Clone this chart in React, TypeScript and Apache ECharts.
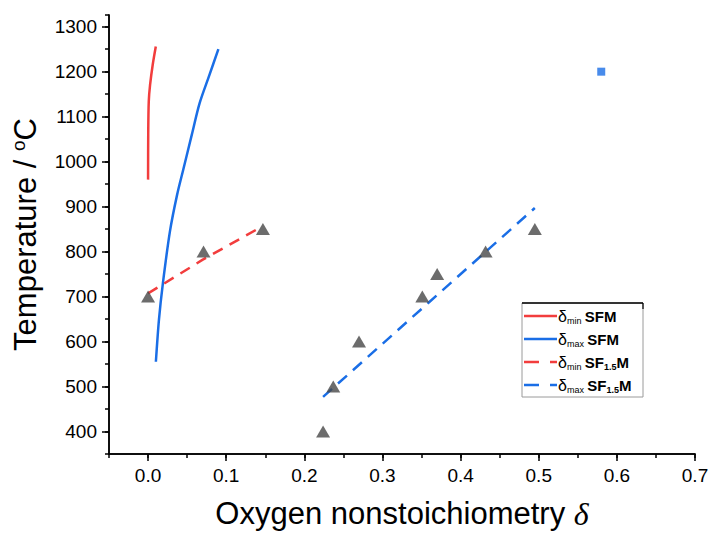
import React, { useEffect, useRef } from "react";
import * as echarts from "echarts";

const FONT = "'Liberation Sans', Arial, sans-serif";

const xMajor = [0, 0.1, 0.2, 0.3, 0.4, 0.5, 0.6, 0.7];
const yMajor = [400, 500, 600, 700, 800, 900, 1000, 1100, 1200, 1300];

// δmin SFM (solid red)
const minSFM = [
  [0.0, 960], [0.0002, 1060], [0.0009, 1134], [0.0026, 1171],
  [0.006, 1216], [0.0099, 1256],
];
// δmax SFM (solid blue)
const maxSFM = [
  [0.010, 555], [0.014, 650], [0.019, 730], [0.028, 845], [0.037, 925],
  [0.045, 982], [0.056, 1060], [0.066, 1130], [0.078, 1190], [0.090, 1250],
];
// δmin SF1.5M (dashed red)
const minSF15M = [[0.0, 707], [0.07, 782], [0.145, 855]];
// δmax SF1.5M (dashed blue)
const maxSF15M = [[0.224, 477], [0.36, 688], [0.495, 897]];
// measured points (triangles)
const measured = [
  [0.0, 700], [0.071, 800], [0.147, 850], [0.224, 400], [0.237, 500],
  [0.27, 600], [0.351, 700], [0.37, 750], [0.432, 800], [0.495, 850],
];
// single square point
const squarePt = [[0.58, 1200]];

const RED = "#f23d3d";
const BLUE = "#1a6ee6";

const legendItems = [
  { color: RED, dashed: false, label: "{d|δ}{s|min} {b|SFM}" },
  { color: BLUE, dashed: false, label: "{d|δ}{s|max} {b|SFM}" },
  { color: RED, dashed: true, label: "{d|δ}{s|min} {b|SF}{bs|1.5}{b|M}" },
  { color: BLUE, dashed: true, label: "{d|δ}{s|max} {b|SF}{bs|1.5}{b|M}" },
];

export default function App() {
  const ref = useRef<HTMLDivElement>(null);

  useEffect(() => {
    document.body.style.margin = "0";
    if (!ref.current) return;
    const chart = echarts.init(ref.current, undefined, { renderer: "svg" });

    const tickStyle = { color: "#000", width: 1.5 };
    const lx = 522, ly = 303, lw = 121, lh = 94;
    const rowY = [316, 339, 362, 385];

    const legendGraphics: any[] = [
      {
        type: "rect",
        shape: { x: lx, y: ly, width: lw, height: lh },
        style: { fill: "#fff", stroke: "#9a9a9a", lineWidth: 1 },
        z: 100,
      },
      {
        type: "line",
        shape: { x1: lx, y1: ly, x2: lx + lw, y2: ly },
        style: { stroke: "#000", lineWidth: 1.6 },
        z: 101,
      },
      {
        type: "line",
        shape: { x1: lx + lw, y1: ly, x2: lx + lw, y2: ly + 6 },
        style: { stroke: "#000", lineWidth: 1.2 },
        z: 101,
      },
    ];
    legendItems.forEach((it, i) => {
      legendGraphics.push({
        type: "line",
        shape: { x1: lx + 2, y1: rowY[i], x2: lx + 35, y2: rowY[i] },
        style: {
          stroke: it.color,
          lineWidth: 2.5,
          lineDash: it.dashed ? [15, 11] : null,
        },
        z: 101,
      });
      legendGraphics.push({
        type: "text",
        x: lx + 36,
        y: rowY[i],
        style: {
          text: it.label,
          verticalAlign: "middle",
          fill: "#000",
          rich: {
            d: { fontSize: 16, fontFamily: FONT, fill: "#000" },
            s: { fontSize: 9, fontFamily: FONT, fill: "#000", padding: [9, 0, 0, 0] },
            b: { fontSize: 15, fontFamily: FONT, fontWeight: "bold", fill: "#000" },
            bs: { fontSize: 9, fontFamily: FONT, fontWeight: "bold", fill: "#000", padding: [9, 0, 0, 0] },
          },
        },
        z: 102,
      });
    });

    const option: any = {
      animation: false,
      backgroundColor: "#fff",
      grid: {
        left: 109, right: 15, top: 15, bottom: 81,
        containLabel: false, outerBoundsMode: "none",
      },
      xAxis: [
        {
          type: "value",
          min: -0.05,
          max: 0.7,
          interval: 0.05,
          position: "bottom",
          axisLine: { show: true, onZero: false, lineStyle: tickStyle },
          axisTick: { show: true, length: 4, lineStyle: tickStyle },
          axisLabel: {
            customValues: xMajor,
            formatter: (v: number) => v.toFixed(1),
            fontSize: 19,
            color: "#000",
            margin: 12,
            fontFamily: FONT,
          },
          splitLine: { show: false },
          name: "Oxygen nonstoichiometry {i|δ}",
          nameLocation: "middle",
          nameGap: 44,
          nameTextStyle: {
            fontSize: 31,
            lineHeight: 31,
            fontFamily: FONT,
            color: "#000",
            rich: {
              i: { fontSize: 32, lineHeight: 31, fontStyle: "italic", fontFamily: "'Liberation Serif', serif", color: "#000" },
            },
          },
        },
        {
          type: "value",
          min: -0.05,
          max: 0.7,
          position: "bottom",
          axisLine: { show: true, onZero: false, lineStyle: tickStyle },
          axisTick: { show: true, customValues: xMajor, length: 7, lineStyle: tickStyle },
          axisLabel: { show: true, customValues: xMajor, formatter: () => "" },
          splitLine: { show: false },
        },
      ],
      yAxis: [
        {
          type: "value",
          min: 350,
          max: 1326,
          interval: 50,
          position: "left",
          axisLine: { show: true, onZero: false, lineStyle: tickStyle },
          axisTick: { show: true, length: 4, lineStyle: tickStyle },
          axisLabel: {
            customValues: yMajor,
            formatter: (v: number) => String(v),
            fontSize: 19,
            color: "#000",
            margin: 12,
            fontFamily: FONT,
          },
          splitLine: { show: false },
          name: "Temperature / {sup|o}C",
          nameLocation: "middle",
          nameGap: 67,
          nameTextStyle: {
            fontSize: 31,
            fontFamily: FONT,
            color: "#000",
            rich: {
              sup: { fontSize: 19, fontFamily: FONT, color: "#000", padding: [0, 0, 14, 0] },
            },
          },
        },
        {
          type: "value",
          min: 350,
          max: 1326,
          position: "left",
          axisLine: { show: true, onZero: false, lineStyle: tickStyle },
          axisTick: { show: true, customValues: yMajor, length: 7, lineStyle: tickStyle },
          axisLabel: { show: true, customValues: yMajor, formatter: () => "" },
          splitLine: { show: false },
        },
      ],
      series: [
        {
          name: "δmin SFM",
          type: "line",
          data: minSFM,
          smooth: 0.3,
          showSymbol: false,
          lineStyle: { color: RED, width: 2.5 },
          itemStyle: { color: RED },
        },
        {
          name: "δmax SFM",
          type: "line",
          data: maxSFM,
          smooth: 0.3,
          showSymbol: false,
          lineStyle: { color: BLUE, width: 2.5 },
          itemStyle: { color: BLUE },
        },
        {
          name: "δmin SF1.5M",
          type: "line",
          data: minSF15M,
          showSymbol: false,
          lineStyle: { color: RED, width: 2.5, type: [11, 8] },
          itemStyle: { color: RED },
        },
        {
          name: "δmax SF1.5M",
          type: "line",
          data: maxSF15M,
          showSymbol: false,
          lineStyle: { color: BLUE, width: 2.5, type: [12, 8] },
          itemStyle: { color: BLUE },
        },
        {
          name: "measured",
          type: "scatter",
          data: measured,
          symbol: "triangle",
          symbolSize: [14, 12],
          itemStyle: { color: "#474747" },
          z: 5,
        },
        {
          name: "square",
          type: "scatter",
          data: squarePt,
          symbol: "rect",
          symbolSize: 8,
          itemStyle: { color: BLUE },
        },
      ],
      graphic: legendGraphics,
    };

    chart.setOption(option);
    return () => chart.dispose();
  }, []);

  return <div ref={ref} style={{ width: 710, height: 535 }} />;
}
